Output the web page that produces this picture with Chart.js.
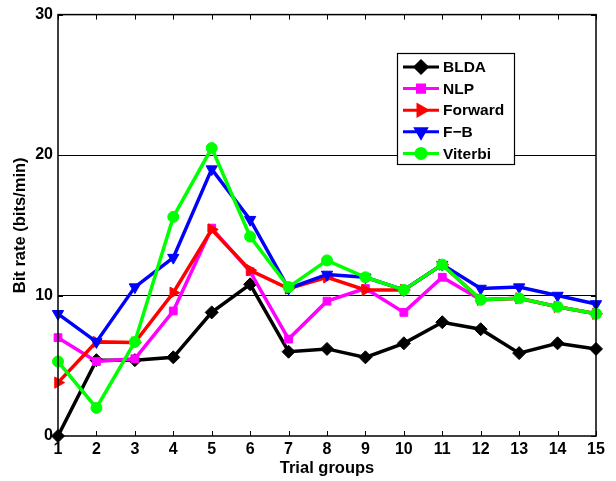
<!DOCTYPE html>
<html>
<head>
<meta charset="utf-8">
<script src="https://cdn.jsdelivr.net/npm/chart.js@4"></script>
<style>
  html, body { margin: 0; padding: 0; background: #fff; }
  #wrap { width: 616px; height: 481px; position: relative; }
</style>
</head>
<body>
<div id="wrap"><canvas id="chart"></canvas></div>
<script>
// trial groups on the x axis
const trialGroups = [1, 2, 3, 4, 5, 6, 7, 8, 9, 10, 11, 12, 13, 14, 15];

// bit rates (bits/min)
const blda    = [0.0, 5.4, 5.4, 5.6, 8.8, 10.8, 6.0, 6.2, 5.6, 6.6, 8.1, 7.6, 5.9, 6.6, 6.2];
const nlp     = [7.0, 5.3, 5.5, 8.9, 14.8, 11.7, 6.9, 9.6, 10.5, 8.8, 11.3, 9.7, 9.8, 9.2, 8.7];
const forward = [3.8, 6.7, 6.65, 10.2, 14.7, 11.8, 10.5, 11.3, 10.4, 10.4, 12.2, 9.7, 9.8, 9.2, 8.7];
const fb      = [8.7, 6.7, 10.6, 12.7, 19.0, 15.4, 10.5, 11.5, 11.3, 10.4, 12.2, 10.5, 10.6, 10.0, 9.4];
const viterbi = [5.3, 2.0, 6.7, 15.6, 20.5, 14.2, 10.6, 12.5, 11.3, 10.4, 12.2, 9.7, 9.8, 9.2, 8.7];

const yTicks = [0, 10, 20, 30];

const FONT = '"Liberation Sans", Arial, Helvetica, sans-serif';

const series = [
  { label: 'BLDA',    data: blda,    color: '#000000', style: 'rectRot',  rot: 0,   radius: 6.5 },
  { label: 'NLP',     data: nlp,     color: '#ff00ff', style: 'rect',     rot: 0,   radius: 5.5 },
  { label: 'Forward', data: forward, color: '#ff0000', style: 'triangle', rot: 90,  radius: 6.5 },
  { label: 'F\u2212B', data: fb,     color: '#0000ff', style: 'triangle', rot: 180, radius: 6.5 },
  { label: 'Viterbi', data: viterbi, color: '#00ff00', style: 'circle',   rot: 0,   radius: 5.5 }
];

// MATLAB-like box, inward ticks and the legend with line + marker
const matlabAxes = {
  id: 'matlabAxes',
  afterDraw(chart) {
    const ctx = chart.ctx;
    const area = chart.chartArea;
    const xs = chart.scales.x;
    const ys = chart.scales.y;
    ctx.save();
    ctx.strokeStyle = '#000';
    ctx.lineWidth = 1.5;
    ctx.strokeRect(area.left, area.top, area.right - area.left, area.bottom - area.top);

    ctx.lineWidth = 1;
    ctx.beginPath();
    trialGroups.forEach((g, i) => {
      const px = Math.round(xs.getPixelForValue(i)) + 0.5;
      ctx.moveTo(px, area.bottom); ctx.lineTo(px, area.bottom - 5);
      ctx.moveTo(px, area.top); ctx.lineTo(px, area.top + 5);
    });
    yTicks.forEach(v => {
      const py = Math.round(ys.getPixelForValue(v)) + 0.5;
      ctx.moveTo(area.left, py); ctx.lineTo(area.left + 5, py);
      ctx.moveTo(area.right, py); ctx.lineTo(area.right - 5, py);
    });
    ctx.stroke();

    // legend
    const lx = 397, ly = 53, lw = 117, lh = 111;
    ctx.fillStyle = '#fff';
    ctx.fillRect(lx, ly, lw, lh);
    ctx.lineWidth = 1.2;
    ctx.strokeStyle = '#000';
    ctx.strokeRect(lx + 0.5, ly + 0.5, lw, lh);
    ctx.font = 'bold 15.5px ' + FONT;
    ctx.textBaseline = 'middle';
    series.forEach((s, i) => {
      const y = ly + 14 + i * 21.6;
      ctx.strokeStyle = s.color;
      ctx.lineWidth = 3;
      ctx.beginPath();
      ctx.moveTo(lx + 6, y); ctx.lineTo(lx + 42, y);
      ctx.stroke();
      ctx.fillStyle = s.color;
      Chart.helpers.drawPoint(ctx, {
        pointStyle: s.style, rotation: s.rot, radius: s.radius - 0.5, borderWidth: 1
      }, lx + 24, y);
      ctx.fillStyle = '#000';
      ctx.textAlign = 'left';
      ctx.fillText(s.label, lx + 46, y + 1);
    });
    ctx.restore();
  }
};

new Chart(document.getElementById('chart'), {
  type: 'line',
  data: {
    labels: trialGroups,
    datasets: series.map(s => ({
      label: s.label,
      data: s.data,
      borderColor: s.color,
      backgroundColor: s.color,
      borderWidth: 3.5,
      pointStyle: s.style,
      pointRotation: s.rot,
      pointRadius: s.radius,
      pointBorderWidth: 1,
      pointBorderColor: s.color,
      pointBackgroundColor: s.color,
      tension: 0,
      clip: false
    })).reverse()
  },
  options: {
    responsive: true,
    maintainAspectRatio: false,
    animation: false,
    events: [],
    layout: { padding: { left: 11, right: 20, top: 12, bottom: 0 } },
    plugins: {
      legend: { display: false },
      tooltip: { enabled: false }
    },
    scales: {
      x: {
        type: 'category',
        offset: false,
        grid: { display: false, drawTicks: false },
        border: { display: false },
        ticks: {
          color: '#000',
          padding: 4,
          maxRotation: 0,
          autoSkip: false,
          font: { family: FONT, size: 16, weight: 'bold' }
        },
        title: {
          display: true,
          text: 'Trial groups',
          color: '#000',
          padding: { top: 0, bottom: 3 },
          font: { family: FONT, size: 16.5, weight: 'bold' }
        },
        afterFit(scale) { scale.height = 45; }
      },
      y: {
        min: 0,
        max: 30,
        afterBuildTicks(scale) { scale.ticks = yTicks.map(v => ({ value: v })); },
        grid: {
          drawTicks: false,
          color: ctx => (ctx.tick && (ctx.tick.value === 10 || ctx.tick.value === 20)) ? '#000' : 'rgba(0,0,0,0)',
          lineWidth: 1
        },
        border: { display: false },
        ticks: {
          color: '#000',
          padding: 5,
          font: { family: FONT, size: 16, weight: 'bold' }
        },
        title: {
          display: true,
          text: 'Bit rate (bits/min)',
          color: '#000',
          padding: { top: 0, bottom: 0 },
          font: { family: FONT, size: 16.5, weight: 'bold' }
        },
        afterFit(scale) { scale.width = 47; }
      }
    }
  },
  plugins: [matlabAxes]
});
</script>
</body>
</html>
